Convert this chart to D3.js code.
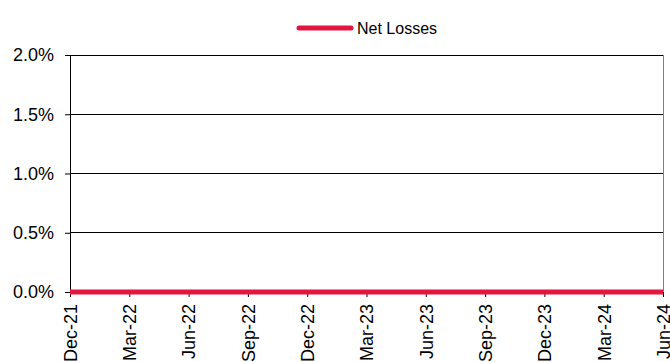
<!DOCTYPE html>
<html><head><meta charset="utf-8">
<script src="https://cdn.jsdelivr.net/npm/d3@7"></script>
<style>body{margin:0;background:#fff}svg{display:block;font-family:"Liberation Sans",Arial,sans-serif}</style>
</head><body><svg id="c" width="670" height="362"></svg>
<script>
const categories = ["Dec-21","Mar-22","Jun-22","Sep-22","Dec-22","Mar-23","Jun-23","Sep-23","Dec-23","Mar-24","Jun-24"];
const netLosses = [0,0,0,0,0,0,0,0,0,0,0];
const yTicks = [0,0.005,0.01,0.015,0.02];
const seriesName = "Net Losses";

const svg = d3.select("#c");
const m = {l:70, r:7, t:55, b:70};
const W = 670, H = 362;
const x = d3.scalePoint().domain(categories).range([m.l, W - m.r]);
const y = d3.scaleLinear().domain([0, 0.02]).range([H - m.b, m.t]);

// gridlines
svg.append("g").selectAll("line").data(yTicks.slice(1)).join("line")
  .attr("x1", m.l).attr("x2", W - m.r)
  .attr("y1", d => y(d)).attr("y2", d => y(d))
  .attr("stroke", "#000").attr("stroke-width", 1).attr("shape-rendering","crispEdges");
// right border
svg.append("line").attr("x1", W - m.r).attr("x2", W - m.r).attr("y1", m.t).attr("y2", H - m.b)
  .attr("stroke", "#808080").attr("shape-rendering","crispEdges");

// y axis
const ya = svg.append("g").attr("transform", `translate(${m.l},0)`)
  .call(d3.axisLeft(y).tickValues(yTicks).tickFormat(d3.format(".1%")).tickSize(5).tickPadding(11));
ya.select(".domain").attr("stroke", "#000");
ya.selectAll("text").attr("font-size", 18).attr("fill", "#000");
ya.selectAll("line").attr("stroke", "#000");

// x axis
const xa = svg.append("g").attr("transform", `translate(0,${H - m.b})`)
  .call(d3.axisBottom(x).tickSize(5).tickSizeOuter(0));
xa.select(".domain").attr("stroke", "#000");
xa.selectAll("line").attr("stroke", "#000");
xa.selectAll("text").attr("font-size", 18).attr("fill", "#000")
  .attr("transform", "rotate(-90)").attr("text-anchor", "end")
  .attr("x", -12).attr("y", 0).attr("dy", "0.35em");

// line
svg.append("path").datum(netLosses)
  .attr("fill", "none").attr("stroke", "#E2163F").attr("stroke-width", 5)
  .attr("d", d3.line().x((d, i) => x(categories[i])).y(d => y(d)));

// legend
const lg = svg.append("g");
lg.append("line").attr("x1", 299).attr("x2", 351).attr("y1", 28).attr("y2", 28)
  .attr("stroke", "#E2163F").attr("stroke-width", 5).attr("stroke-linecap", "round");
lg.append("text").attr("x", 357).attr("y", 28).attr("dy", "0.35em")
  .attr("font-size", 16).attr("fill", "#000").text(seriesName);
</script></body></html>
